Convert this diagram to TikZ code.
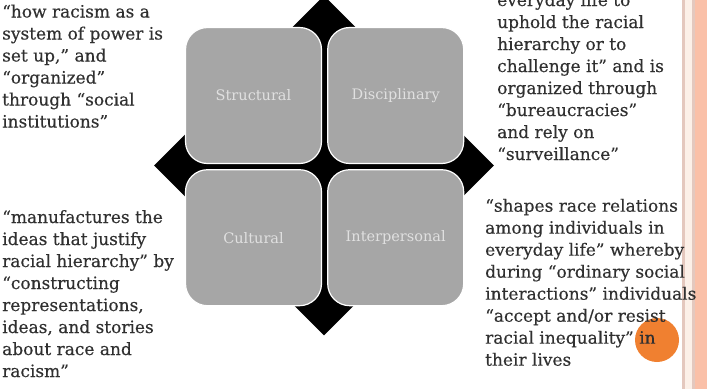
\documentclass[tikz,border=0pt]{standalone}
\usepackage{fontspec}
\setmainfont{DejaVu Serif}
\usetikzlibrary{positioning,shapes.geometric}
\definecolor{boxgray}{RGB}{166,166,166}
\definecolor{quotetext}{RGB}{48,48,48}
\definecolor{bandsalmon}{RGB}{250,192,168}
\definecolor{bandpink}{RGB}{228,200,190}
\definecolor{bandcream}{RGB}{252,240,232}
\definecolor{dotorange}{RGB}{240,128,48}

\begin{document}
\begin{tikzpicture}[x=1pt,y=-1pt,
  quad node/.style={rectangle,rounded corners=22pt,draw=white,line width=1.2pt,fill=boxgray,minimum width=136pt,minimum height=136pt,inner sep=0pt,text=white!88!black,font=\fontsize{14.5}{16}\selectfont},
  quote node/.style={align=left,inner sep=0pt,anchor=base west,text=quotetext,font=\fontsize{17}{22}\selectfont\addfontfeature{FakeBold=0.4}}]
\useasboundingbox (0,0) rectangle (707,389);
\clip (0,0) rectangle (707,389);
% side band
  \fill[bandpink] (682,0) rectangle (684.5,389);
  \fill[bandcream] (684.5,0) rectangle (692,389);
  \fill[bandpink] (692,0) rectangle (695,389);
  \fill[bandsalmon] (695,0) rectangle (707,389);
% nodes
  \node[diamond,fill=black,minimum width=340pt,minimum height=340pt,inner sep=0pt] (cross) at (324,165.5) {};
  \node[quad node] (structural) at (253.5,95.5) {Structural};
  \node[quad node] (disciplinary) [right = 5pt of structural] {Disciplinary};
  \node[quad node] (cultural) [below = 5pt of structural] {Cultural};
  \node[quad node] (interpersonal) [right = 5pt of cultural] {Interpersonal};
  \node[circle,fill=dotorange,minimum size=44pt,inner sep=0pt] (dot) at (657,340) {};
% quotes (placed at the baseline of their last line)
  \node[quote node] (structq) at (2,127.5) {“how racism as a\\system of power is\\set up,” and\\“organized”\\through “social\\institutions”};
  \node[quote node] (discq) at (497,160) {everyday life to\\uphold the racial\\hierarchy or to\\challenge it” and is\\organized through\\“bureaucracies”\\and rely on\\“surveillance”};
  \node[quote node] (cultq) at (2,377) {“manufactures the\\ideas that justify\\racial hierarchy” by\\“constructing\\representations,\\ideas, and stories\\about race and\\racism”};
  \node[quote node] (interq) at (485,365.7) {“shapes race relations\\among individuals in\\everyday life” whereby\\during “ordinary social\\interactions” individuals\\“accept and/or resist\\racial inequality” in\\their lives};
\end{tikzpicture}
\end{document}
